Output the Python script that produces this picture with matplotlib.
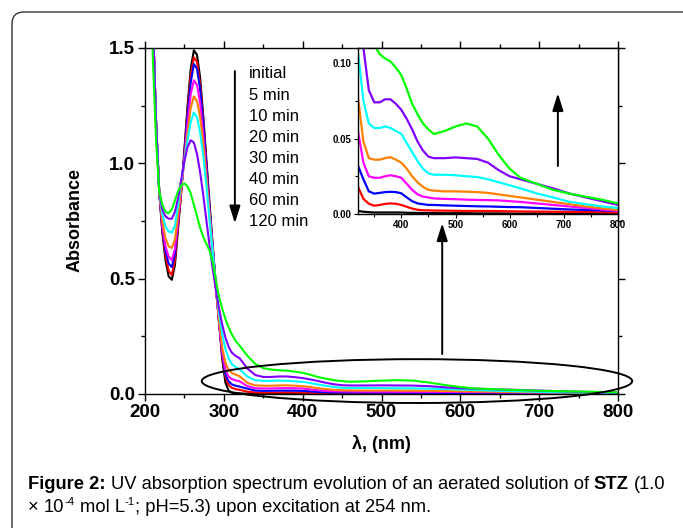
import matplotlib
matplotlib.use('Agg')
import matplotlib.pyplot as plt
from matplotlib.patches import Ellipse, FancyBboxPatch
from matplotlib.transforms import IdentityTransform
from matplotlib.ticker import FormatStrFormatter
from matplotlib import font_manager

# wavelengths (nm) and absorbance of each irradiation time
wl = [200, 205, 210, 214, 218, 222, 226, 230, 234, 238, 242, 246, 250, 254, 258, 262, 266, 270, 274, 278,
      282, 286, 290, 294, 298, 302, 306, 310, 315, 320,
      330, 340, 350, 360, 370, 380, 390, 400, 410, 420, 430, 440, 450, 460,
      480, 500, 520, 540, 560, 580, 600, 620, 650, 680, 710, 740, 770, 800]

a_initial = [3.0, 2.2, 1.62, 1.18, 0.88, 0.70, 0.58, 0.51, 0.495, 0.56, 0.72, 0.88, 1.06, 1.25, 1.41, 1.49, 1.47, 1.37, 1.20, 1.01,
             0.82, 0.64, 0.47, 0.31, 0.15, 0.05, 0.015, 0.006, 0.003, 0.002,
             0.0015, 0.0012, 0.001, 0.001, 0.001, 0.001, 0.001, 0.001, 0.0008, 0.0008, 0.0007, 0.0007, 0.0006, 0.0006,
             0.0005, 0.0005, 0.0005, 0.0004, 0.0004, 0.0004, 0.0003, 0.0003, 0.0003, 0.0002, 0.0002, 0.0002, 0.0001, 0.0001]
a_5 = [3.0, 2.2, 1.62, 1.18, 0.88, 0.71, 0.60, 0.535, 0.516, 0.58, 0.73, 0.88, 1.05, 1.23, 1.38, 1.46, 1.44, 1.34, 1.18, 0.99,
       0.80, 0.63, 0.46, 0.31, 0.16, 0.075, 0.04, 0.027, 0.021, 0.018,
       0.010, 0.0068, 0.0055, 0.006, 0.0067, 0.007, 0.0068, 0.006, 0.0048, 0.0036, 0.0028, 0.0025, 0.0024, 0.0023,
       0.0022, 0.0021, 0.002, 0.002, 0.002, 0.0019, 0.0018, 0.0017, 0.0016, 0.0015, 0.0014, 0.0013, 0.0012, 0.001]
a_10 = [3.0, 2.2, 1.62, 1.18, 0.88, 0.72, 0.62, 0.565, 0.55, 0.61, 0.75, 0.89, 1.04, 1.21, 1.35, 1.43, 1.41, 1.32, 1.17, 0.98,
        0.80, 0.63, 0.46, 0.31, 0.17, 0.085, 0.055, 0.042, 0.036, 0.032,
        0.023, 0.015, 0.0135, 0.014, 0.0145, 0.0147, 0.0145, 0.0137, 0.011, 0.0085, 0.007, 0.0065, 0.006, 0.006,
        0.0057, 0.0055, 0.0053, 0.0051, 0.005, 0.0048, 0.0046, 0.0045, 0.004, 0.0035, 0.003, 0.0027, 0.0024, 0.002]
a_20 = [3.0, 2.2, 1.62, 1.18, 0.88, 0.73, 0.64, 0.595, 0.58, 0.63, 0.76, 0.89, 1.02, 1.17, 1.30, 1.36, 1.34, 1.26, 1.12, 0.95,
        0.78, 0.62, 0.46, 0.31, 0.18, 0.105, 0.075, 0.065, 0.059, 0.055,
        0.034, 0.025, 0.024, 0.024, 0.025, 0.0257, 0.025, 0.024, 0.020, 0.016, 0.013, 0.0115, 0.011, 0.0103,
        0.010, 0.0098, 0.0095, 0.0093, 0.0092, 0.009, 0.0085, 0.008, 0.007, 0.006, 0.005, 0.004, 0.003, 0.002]
a_30 = [3.0, 2.2, 1.62, 1.18, 0.88, 0.75, 0.675, 0.64, 0.633, 0.67, 0.78, 0.90, 1.01, 1.13, 1.24, 1.29, 1.27, 1.20, 1.08, 0.93,
        0.77, 0.61, 0.46, 0.32, 0.20, 0.135, 0.105, 0.092, 0.084, 0.077,
        0.048, 0.037, 0.036, 0.036, 0.037, 0.0377, 0.036, 0.034, 0.030, 0.025, 0.021, 0.018, 0.016, 0.0155,
        0.015, 0.015, 0.0148, 0.0145, 0.014, 0.013, 0.012, 0.011, 0.0095, 0.008, 0.0065, 0.005, 0.0038, 0.0026]
a_40 = [3.0, 2.2, 1.62, 1.18, 0.88, 0.78, 0.725, 0.705, 0.70, 0.73, 0.82, 0.92, 1.01, 1.10, 1.18, 1.22, 1.20, 1.13, 1.03, 0.90,
        0.75, 0.61, 0.47, 0.35, 0.26, 0.195, 0.155, 0.13, 0.117, 0.107,
        0.075, 0.060, 0.057, 0.057, 0.058, 0.057, 0.055, 0.053, 0.047, 0.041, 0.035, 0.030, 0.027, 0.026,
        0.026, 0.0257, 0.025, 0.0245, 0.023, 0.021, 0.019, 0.017, 0.0136, 0.011, 0.0081, 0.0065, 0.005, 0.004]
a_60 = [3.0, 2.2, 1.62, 1.18, 0.88, 0.80, 0.77, 0.76, 0.76, 0.79, 0.85, 0.93, 1.01, 1.07, 1.10, 1.09, 1.04, 0.96, 0.86, 0.75,
        0.64, 0.54, 0.45, 0.37, 0.30, 0.245, 0.205, 0.18, 0.165, 0.155,
        0.11, 0.082, 0.074, 0.074, 0.076, 0.076, 0.073, 0.069, 0.063, 0.056, 0.048, 0.042, 0.038, 0.037,
        0.037, 0.0375, 0.037, 0.0365, 0.034, 0.029, 0.025, 0.023, 0.020, 0.017, 0.0136, 0.011, 0.0085, 0.006]
a_120 = [3.0, 2.1, 1.45, 1.10, 0.88, 0.82, 0.79, 0.784, 0.80, 0.84, 0.88, 0.905, 0.913, 0.90, 0.87, 0.82, 0.77, 0.72, 0.68, 0.65,
         0.62, 0.57, 0.49, 0.42, 0.37, 0.325, 0.29, 0.26, 0.23, 0.21,
         0.165, 0.13, 0.112, 0.106, 0.103, 0.101, 0.097, 0.092, 0.083, 0.073, 0.066, 0.060, 0.056, 0.053,
         0.055, 0.058, 0.060, 0.058, 0.050, 0.039, 0.030, 0.024, 0.020, 0.016, 0.0135, 0.0115, 0.0095, 0.007]

series = [a_initial, a_5, a_10, a_20, a_30, a_40, a_60, a_120]
labels = ['initial', '5 min', '10 min', '20 min', '30 min', '40 min', '60 min', '120 min']
colors = ['#000000', '#ff0000', '#0000ff', '#ff00ff', '#ff8000', '#00ffff', '#8000ff', '#00ff00']

W, H = 683, 528


def fx(px):
    return px / W


def fy(py):
    return 1 - py / H


plt.rcParams['font.family'] = ['Liberation Sans', 'DejaVu Sans']

fig = plt.figure(figsize=(W / 100, H / 100), dpi=100)

# rounded frame round the whole figure
frame = FancyBboxPatch((12, -40), 720, H - 12 + 40, boxstyle='round,pad=0,rounding_size=12',
                       transform=IdentityTransform(), fill=False, lw=1.0, ec='#333333')
fig.add_artist(frame)

# main plot
ax = fig.add_axes([fx(145), fy(394), (618 - 145) / W, (394 - 48) / H])
for y, c in zip(series, colors):
    ax.plot(wl, y, color=c, lw=1.5)
ax.set_xlim(200, 800)
ax.set_ylim(0, 1.5)
ax.set_xticks(range(200, 801, 100))
ax.set_xticks(range(250, 800, 100), minor=True)
ax.set_yticks([0, 0.5, 1.0, 1.5])
ax.set_yticks([0.25, 0.75, 1.25], minor=True)
ax.yaxis.set_major_formatter(FormatStrFormatter('%.1f'))
ax.tick_params(which='both', direction='out', top=True, right=True, width=1)
ax.tick_params(which='major', length=5, labelsize=13.5, pad=2)
ax.tick_params(which='minor', length=3)
for lab in ax.get_xticklabels() + ax.get_yticklabels():
    lab.set_fontweight('bold')
for s in ax.spines.values():
    s.set_linewidth(1.0)

fig.text(fx(75), fy(220), 'Absorbance', rotation=90, ha='center', va='center', fontsize=13, fontweight='bold')
fig.text(fx(381), fy(444), 'λ, (nm)', ha='center', va='center', fontsize=13, fontweight='bold')

# ellipse round the visible region
ell = Ellipse((545, 0.056), 546, 0.19, fill=False, lw=1.4, ec='black', clip_on=False, zorder=5)
ax.add_patch(ell)

arrow = dict(arrowstyle='-|>,head_length=0.7,head_width=0.22', color='black', lw=1.4,
             shrinkA=0, shrinkB=0, mutation_scale=15)
ax.annotate('', xy=(314, 0.74), xytext=(314, 1.40), arrowprops=arrow, annotation_clip=False)
ax.annotate('', xy=(577, 0.74), xytext=(577, 0.173), arrowprops=arrow, annotation_clip=False)

for i, lab in enumerate(labels):
    fig.text(fx(249), fy(74 + i * 21.1), lab, ha='left', va='center', fontsize=12)

# inset
ins = fig.add_axes([fx(358), fy(214), (618 - 358) / W, (214 - 48) / H])
for y, c in zip(series, colors):
    ins.plot(wl, y, color=c, lw=1.6)
ins.set_xlim(320, 800)
ins.set_ylim(0, 0.11)
ins.set_xticks(range(400, 801, 100))
ins.set_xticks(range(350, 800, 100), minor=True)
ins.set_yticks([0, 0.05, 0.10])
ins.set_yticks([0.025, 0.075], minor=True)
ins.yaxis.set_major_formatter(FormatStrFormatter('%.2f'))
ins.tick_params(which='both', direction='out', width=0.8, labelsize=7, pad=1.5)
ins.tick_params(which='major', length=3)
ins.tick_params(which='minor', length=2)
for lab in ins.get_xticklabels() + ins.get_yticklabels():
    lab.set_fontweight('bold')
for s in ins.spines.values():
    s.set_linewidth(1.0)
ins.annotate('', xy=(689, 0.080), xytext=(689, 0.0318), arrowprops=arrow, annotation_clip=False)

# caption, built piece by piece so bold and superscript parts sit inline
cap_family = 'Liberation Sans'
try:
    font_manager.findfont('Liberation Sans Narrow', fallback_to_default=False)
    cap_family = 'Liberation Sans Narrow'
except Exception:
    pass

renderer = fig.canvas.get_renderer()


def text_width(s, size, bold=False):
    t = fig.text(0, 0, s, fontsize=size, fontweight='bold' if bold else 'normal',
                 family=[cap_family, 'DejaVu Sans'])
    w = t.get_window_extent(renderer).width
    t.remove()
    return w


line1 = [('Figure 2:', True, False), (' ', False, False),
         ('UV absorption spectrum evolution of an aerated solution of', False, False), (' ', False, False),
         ('STZ', True, False), (' ', False, False), ('(1.0', False, False)]
line2 = [('×', False, False), (' ', False, False), ('10', False, False), ('-4', False, True), (' ', False, False),
         ('mol L', False, False), ('-1', False, True), ('; pH=5.3) upon excitation at 254 nm.', False, False)]


def piece_width(p, size):
    s, b, sup = p
    fs = size * 0.62 if sup else size
    if s == ' ':
        return text_width('n n', fs, b) - text_width('nn', fs, b)
    return text_width(s, fs, b)


base = 10.0
w1 = sum(piece_width(p, base) for p in line1)
cap_size = base * (640 / w1)


def put_line(pieces, x0, yb, size):
    x = x0
    for p in pieces:
        s, b, sup = p
        fs = size * 0.62 if sup else size
        dy = size * 0.55 if sup else 0
        if s != ' ':
            fig.text(fx(x), fy(yb - dy), s, fontsize=fs, fontweight='bold' if b else 'normal',
                     family=[cap_family, 'DejaVu Sans'], ha='left', va='baseline')
        x += piece_width(p, size)


put_line(line1, 28, 489, cap_size)
put_line(line2, 28, 512, cap_size)

fig.savefig('out.png', dpi=100)
